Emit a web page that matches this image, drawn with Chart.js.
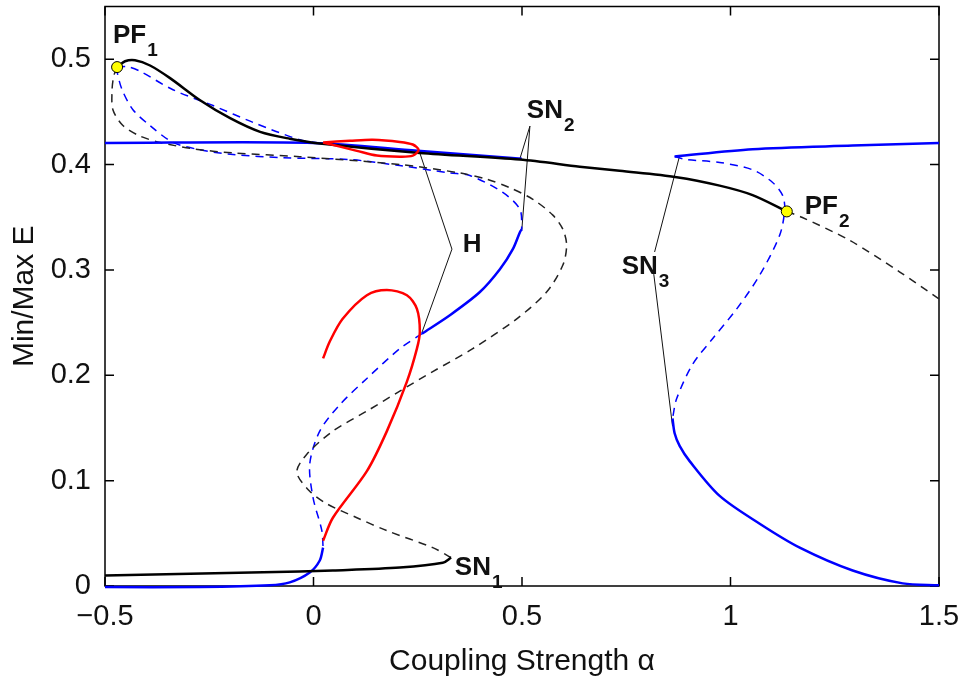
<!DOCTYPE html>
<html>
<head>
<meta charset="utf-8">
<script src="https://cdn.jsdelivr.net/npm/chart.js@4.4.1/dist/chart.umd.min.js"></script>
<style>
body{margin:0;background:#fff}
</style>
</head>
<body>
<canvas id="grafico" width="961" height="682"></canvas>
<script>
const xTicks = [-0.5, 0, 0.5, 1, 1.5]
const yTicks = [0, 0.1, 0.2, 0.3, 0.4, 0.5]

// ramos estaveis (linha cheia)
const blackUpper = [[-0.471,0.4925],[-0.452,0.498],[-0.428,0.499],[-0.392,0.494],[-0.344,0.482],[-0.272,0.461],[-0.2,0.444],[-0.128,0.431],[-0.057,0.4245],[0.015,0.420],[0.255,0.411],[0.495,0.4047],[0.6385,0.398],[0.734,0.394],[0.871,0.388],[0.974,0.380],[1.053,0.371],[1.135,0.3555]]
const blackLower = [[0.33,0.027],[0.31,0.022],[0.207,0.0175],[0.0465,0.0147],[-0.033,0.0138],[-0.5,0.010]]
const blueUpper = [[-0.5,0.4205],[0.0,0.4205],[0.25,0.413],[0.4995,0.4055]]
const blueMid = [[0.4995,0.3386],[0.495,0.3358],[0.478,0.3197],[0.447,0.3006],[0.399,0.279],[0.327,0.257],[0.26,0.2395]]
const blueLower = [[0.023,0.0364],[0.015,0.0242],[-0.009,0.0128],[-0.057,0.0034],[-0.105,0.0006],[-0.272,-0.001],[-0.5,-0.001]]
const blueRightUpper = [[0.866,0.4076],[1.053,0.4146],[1.293,0.418],[1.5,0.4205]]
const blueRightLower = [[0.861,0.159],[0.866,0.145],[0.878,0.133],[0.902,0.1185],[0.974,0.0855],[1.07,0.0591],[1.166,0.0364],[1.293,0.0147],[1.413,0.0025],[1.5,0.0006]]
const redLoop = [[0.023,0.421],[0.087,0.4225],[0.142,0.4235],[0.207,0.4215],[0.238,0.419],[0.252,0.414],[0.238,0.4085],[0.207,0.4075],[0.152,0.4085],[0.104,0.413],[0.023,0.421]]
const redLower = [[0.023,0.216],[0.039,0.232],[0.07,0.2536],[0.128,0.276],[0.176,0.281],[0.224,0.276],[0.248,0.263],[0.255,0.2414],[0.248,0.2253],[0.224,0.194],[0.176,0.147],[0.128,0.109],[0.0465,0.0648],[0.023,0.043]]

// ramos instaveis (tracejado)
const blackDashLong = [[-0.471,0.4925],[-0.479,0.484],[-0.483,0.471],[-0.481,0.452],[-0.457,0.437],[-0.416,0.427],[-0.368,0.421],[-0.289,0.415],[-0.193,0.411],[-0.033,0.4075],[0.207,0.400],[0.351,0.392],[0.416,0.386],[0.471,0.378],[0.526,0.367],[0.574,0.352],[0.598,0.3386],[0.607,0.3235],[0.598,0.3046],[0.559,0.279],[0.4875,0.2536],[0.382,0.2253],[0.286,0.2035],[0.207,0.185],[0.128,0.166],[0.0465,0.147],[-0.016,0.125],[-0.04,0.108],[-0.009,0.090],[0.032,0.078],[0.104,0.0648],[0.176,0.0525],[0.286,0.0364],[0.33,0.027]]
const blackDashRight = [[1.135,0.3555],[1.171,0.350],[1.286,0.328],[1.406,0.298],[1.5,0.2725]]
const blueDashUpper = [[-0.471,0.4925],[-0.447,0.493],[-0.416,0.4885],[-0.337,0.471],[-0.241,0.456],[-0.145,0.440],[-0.033,0.4235],[0.015,0.4205]]
const blueDashLower = [[-0.471,0.4925],[-0.471,0.488],[-0.459,0.471],[-0.433,0.452],[-0.392,0.437],[-0.337,0.421],[-0.272,0.414],[-0.193,0.4095],[-0.073,0.4065],[0.087,0.4047],[0.207,0.399],[0.327,0.392],[0.375,0.3896],[0.454,0.3735],[0.495,0.3575],[0.4995,0.3386]]
const blueDashMid = [[0.26,0.2395],[0.207,0.2253],[0.128,0.197],[0.063,0.172],[0.015,0.147],[-0.009,0.1158],[-0.001,0.0837],[0.020,0.0525],[0.023,0.0364]]
const blueDashRight = [[0.866,0.4076],[0.895,0.4047],[0.974,0.402],[1.053,0.395],[1.101,0.383],[1.125,0.3707],[1.13,0.3575],[1.118,0.333],[1.07,0.295],[1.015,0.263],[0.957,0.2347],[0.909,0.2103],[0.871,0.178],[0.861,0.159]]

// pontos de bifurcacao pitchfork
const pfX = [-0.471, 1.135]
const pfY = [0.4925, 0.3555]

// linhas que ligam os rotulos
const ponteiros = [
  [[0.519,0.4365],[0.495,0.4055]],
  [[0.519,0.4365],[0.4995,0.3377]],
  [[0.332,0.3197],[0.255,0.411]],
  [[0.332,0.3197],[0.26,0.2405]],
  [[0.818,0.317],[0.878,0.4084]],
  [[0.816,0.296],[0.861,0.1517]],
]

const rotulos = [
  {t: "PF", s: "1", x: -0.481, y: 0.515},
  {t: "SN", s: "2", x: 0.5115, y: 0.4444},
  {t: "H", s: "", x: 0.358, y: 0.317},
  {t: "SN", s: "3", x: 0.739, y: 0.296},
  {t: "PF", s: "2", x: 1.178, y: 0.3528},
  {t: "SN", s: "1", x: 0.339, y: 0.010},
]

const FONTE = '"Liberation Sans", Arial, Helvetica, sans-serif'
Chart.defaults.font.family = FONTE
Chart.defaults.color = "#000"

const pts = arr => arr.map(([x, y]) => ({x, y}))

function linha(dados, cor, largura, tracejado){
  return {
    data: pts(dados),
    showLine: true,
    borderColor: cor,
    borderWidth: largura,
    borderDash: tracejado || [],
    pointRadius: 0,
    tension: 0.3,
    fill: false,
    clip: false,
  }
}

const AZUL = "#0000ff"
const VERMELHO = "#ff0000"
const PRETO = "#000000"
const DASH = [8, 6]

const datasets = [
  {
    data: pfX.map((x, i) => ({x, y: pfY[i]})),
    showLine: false,
    pointRadius: 5.5,
    pointBackgroundColor: "#ffff00",
    pointBorderColor: "#000",
    pointBorderWidth: 1,
    clip: false,
  },
  linha(redLoop, VERMELHO, 2.5),
  linha(redLower, VERMELHO, 2.5),
  linha(blackUpper, PRETO, 2.5),
  linha(blackLower, PRETO, 2.5),
  linha(blueUpper, AZUL, 2.5),
  linha(blueMid, AZUL, 2.5),
  linha(blueLower, AZUL, 2.5),
  linha(blueRightUpper, AZUL, 2.5),
  linha(blueRightLower, AZUL, 2.5),
  linha(blackDashLong, "#222", 1.5, DASH),
  linha(blackDashRight, "#222", 1.5, DASH),
  linha(blueDashUpper, AZUL, 1.5, DASH),
  linha(blueDashLower, AZUL, 1.5, DASH),
  linha(blueDashMid, AZUL, 1.5, DASH),
  linha(blueDashRight, AZUL, 1.5, DASH),
]
ponteiros.forEach(p => {
  const d = linha(p, "#111", 1)
  d.tension = 0
  datasets.push(d)
})

const caixa = {
  id: "caixa",
  beforeDatasetsDraw(chart){
    const {ctx, chartArea: a, scales: {x, y}} = chart
    ctx.save()
    ctx.strokeStyle = "#000"
    ctx.lineWidth = 1.5
    ctx.strokeRect(a.left, a.top, a.right - a.left, a.bottom - a.top)
    ctx.beginPath()
    xTicks.forEach(v => {
      const px = x.getPixelForValue(v)
      ctx.moveTo(px, a.bottom); ctx.lineTo(px, a.bottom - 9)
      ctx.moveTo(px, a.top); ctx.lineTo(px, a.top + 9)
    })
    yTicks.forEach(v => {
      const py = y.getPixelForValue(v)
      ctx.moveTo(a.left, py); ctx.lineTo(a.left + 9, py)
      ctx.moveTo(a.right, py); ctx.lineTo(a.right - 9, py)
    })
    ctx.stroke()
    ctx.restore()
  },
  afterDatasetsDraw(chart){
    const {ctx, scales: {x, y}} = chart
    ctx.save()
    ctx.fillStyle = "#111"
    ctx.textBaseline = "alphabetic"
    ctx.textAlign = "left"
    rotulos.forEach(r => {
      const px = x.getPixelForValue(r.x)
      const py = y.getPixelForValue(r.y)
      ctx.font = "bold 26px " + FONTE
      ctx.fillText(r.t, px, py)
      const w = ctx.measureText(r.t).width
      if (r.s){
        ctx.font = "bold 19px " + FONTE
        ctx.fillText(r.s, px + w + 1, py + 13)
      }
    })
    ctx.restore()
  }
}

const ctx = document.getElementById("grafico").getContext("2d")
new Chart(ctx, {
  type: "scatter",
  data: { datasets },
  options: {
    responsive: false,
    animation: false,
    layout: { padding: { top: 1, right: 22, left: 0, bottom: 0 } },
    plugins: {
      legend: { display: false },
      tooltip: { enabled: false },
    },
    scales: {
      x: {
        type: "linear",
        min: -0.5,
        max: 1.5,
        afterBuildTicks: s => { s.ticks = xTicks.map(v => ({value: v})) },
        afterFit: s => { s.height = 96; s.paddingLeft = 0; s.paddingRight = 0 },
        grid: { display: false, drawTicks: false },
        border: { display: false },
        ticks: {
          padding: 14,
          font: { size: 29 },
          color: "#111",
          maxRotation: 0,
          callback: v => String(v).replace("-", "\u2212"),
        },
        title: {
          display: true,
          text: "Coupling Strength \u03b1",
          font: { size: 30 },
          color: "#111",
          padding: { top: 0, bottom: 2 },
        },
      },
      y: {
        type: "linear",
        min: 0,
        max: 0.55,
        afterBuildTicks: s => { s.ticks = yTicks.map(v => ({value: v})) },
        afterFit: s => { s.width = 105; s.paddingTop = 0; s.paddingBottom = 0 },
        grid: { display: false, drawTicks: false },
        border: { display: false },
        ticks: {
          padding: 14,
          font: { size: 29 },
          color: "#111",
          callback: v => String(v),
        },
        title: {
          display: true,
          text: "Min/Max E",
          font: { size: 30 },
          color: "#111",
          padding: { top: 7, bottom: 0 },
        },
      },
    },
  },
  plugins: [caixa],
})
</script>
</body>
</html>
